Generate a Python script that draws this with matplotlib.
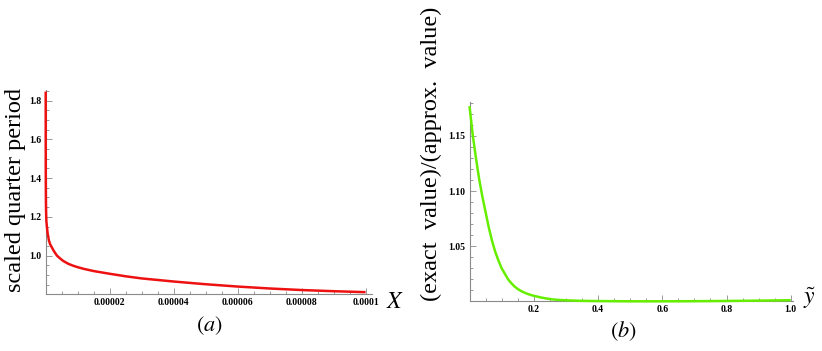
import matplotlib.pyplot as plt
from matplotlib.ticker import FixedLocator, MultipleLocator

plt.rcParams['mathtext.fontset'] = 'stix'
plt.rcParams['font.family'] = 'Liberation Serif'

# panel (a): scaled quarter period vs X
x_a = [0, 5e-9, 2e-8, 6e-8, 1e-7, 2e-7, 4e-7, 6e-7, 1e-6, 1.4e-6, 2e-6, 2.6e-6,
       3.5e-6, 4.5e-6, 5.5e-6, 7e-6, 8.5e-6, 1e-5, 1.2e-5, 1.5e-5,
       2e-5, 2.5e-5, 3e-5, 4e-5, 5e-5, 6e-5, 7e-5, 8e-5, 9e-5, 1e-4]
y_a = [1.847, 1.60, 1.42, 1.30, 1.24, 1.18, 1.145, 1.115, 1.078, 1.058, 1.04, 1.022,
       1.0, 0.985, 0.972, 0.958, 0.948, 0.94, 0.931, 0.92,
       0.906, 0.893, 0.882, 0.866, 0.852, 0.840, 0.830, 0.822, 0.816, 0.811]
xticks_a = [2e-5, 4e-5, 6e-5, 8e-5, 1e-4]
xlabels_a = ['0.00002', '0.00004', '0.00006', '0.00008', '0.0001']
yticks_a = [1.0, 1.2, 1.4, 1.6, 1.8]

# panel (b): exact / approx ratio vs y-tilde
x_b = [0, 0.01, 0.02, 0.03, 0.04, 0.05, 0.06, 0.07, 0.08, 0.09, 0.10, 0.11,
       0.12, 0.13, 0.14, 0.15, 0.16, 0.17, 0.18, 0.19, 0.20, 0.22, 0.24, 0.26,
       0.28, 0.30, 0.35, 0.40, 0.50, 0.60, 0.70, 0.80, 0.90, 1.0]
y_b = [1.177, 1.151, 1.130, 1.111, 1.095, 1.081, 1.067, 1.055, 1.045, 1.037, 1.030,
       1.025, 1.020, 1.0165, 1.0135, 1.0112, 1.0094, 1.0080, 1.0068, 1.0058, 1.0050,
       1.0036, 1.0025, 1.0017, 1.0012, 1.0009, 1.0004, 1.0002, 1.0, 1.0, 1.0001,
       1.0003, 1.0006, 1.0010]
xticks_b = [0.2, 0.4, 0.6, 0.8, 1.0]
yticks_b = [1.05, 1.10, 1.15]

W, H = 822, 351
fig = plt.figure(figsize=(W / 100, H / 100), dpi=100)


def px_axes(left, right, bottom, top):
    return fig.add_axes([left / W, 1 - bottom / H, (right - left) / W, (bottom - top) / H])


def style(ax):
    for s in ['top', 'right']:
        ax.spines[s].set_visible(False)
    for s in ['left', 'bottom']:
        ax.spines[s].set_color('#8a8a8a')
        ax.spines[s].set_linewidth(0.8)
    ax.tick_params(which='both', direction='in', color='#8a8a8a', width=0.6, pad=3)
    ax.tick_params(which='major', length=4.5)
    ax.tick_params(which='minor', length=2.5)


tick_font = dict(fontsize=7, fontweight='bold', family='Liberation Serif')

ax1 = px_axes(45.7, 372, 294.3, 90)
ax1.plot(x_a, y_a, color='#ee1111', lw=1.8, solid_capstyle='butt', clip_on=False, zorder=3)
ax1.set_xlim(0, 1.02e-4)
ax1.set_ylim(0.8, 1.855)
ax1.xaxis.set_major_locator(FixedLocator(xticks_a))
ax1.set_xticklabels(xlabels_a, **tick_font)
ax1.xaxis.set_minor_locator(MultipleLocator(5e-6))
ax1.yaxis.set_major_locator(FixedLocator(yticks_a))
ax1.set_yticklabels(['%.1f' % v for v in yticks_a], **tick_font)
ax1.yaxis.set_minor_locator(MultipleLocator(0.05))
style(ax1)

ax2 = px_axes(469.5, 793, 301.3, 101.7)
ax2.plot(x_b, y_b, color='#66ee00', lw=1.8, solid_capstyle='butt', clip_on=False, zorder=3)
ax2.set_xlim(0, 1.007)
ax2.set_ylim(1.0, 1.181)
ax2.xaxis.set_major_locator(FixedLocator(xticks_b))
ax2.set_xticklabels(['%.1f' % v for v in xticks_b], **tick_font)
ax2.xaxis.set_minor_locator(MultipleLocator(0.05))
ax2.yaxis.set_major_locator(FixedLocator(yticks_b))
ax2.set_yticklabels(['%.2f' % v for v in yticks_b], **tick_font)
ax2.yaxis.set_minor_locator(MultipleLocator(0.01))
style(ax2)

fig.text(16 / W, 1 - 190 / H, 'scaled quarter period', rotation=90,
         fontsize=17.5, ha='center', va='center')
fig.text(431 / W, 1 - 154 / H, '(exact  value)/(approx.  value)', rotation=90,
         fontsize=17.5, ha='center', va='center')
fig.text(395 / W, 1 - 302 / H, '$X$', fontsize=17, ha='center', va='center')
fig.text(809 / W, 1 - 298 / H, r'$\tilde{y}$', fontsize=17, ha='center', va='center')
fig.text(209 / W, 1 - 326 / H, '$(a)$', fontsize=16, ha='center', va='center')
fig.text(623 / W, 1 - 331 / H, '$(b)$', fontsize=16, ha='center', va='center')

fig.savefig('out.png', dpi=100)
